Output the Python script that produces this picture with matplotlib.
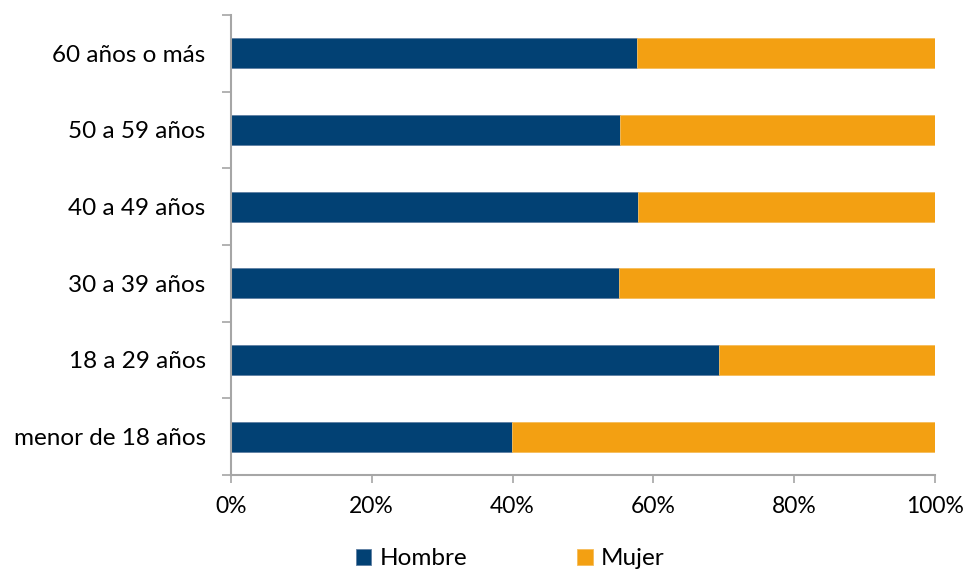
import matplotlib.pyplot as plt
import numpy as np

# data
categorias = ['menor de 18 años', '18 a 29 años', '30 a 39 años',
              '40 a 49 años', '50 a 59 años', '60 años o más']
hombre = [39.9, 69.3, 55.1, 57.8, 55.3, 57.6]
mujer = [100 - h for h in hombre]
xticks = [0, 20, 40, 60, 80, 100]

azul = '#024174'
naranja = '#F3A012'
gris = '#A6A6A6'

plt.rcParams['font.family'] = ['Lato', 'DejaVu Sans']

fig = plt.figure(figsize=(9.68, 5.74), dpi=100)
ax = fig.add_axes([0.2383, 0.1725, 0.9662 - 0.2383, 0.9739 - 0.1725])

y = np.arange(len(categorias))
ax.barh(y, hombre, height=0.39, color=azul, edgecolor='#5F7FA3', linewidth=0.6, label='Hombre')
ax.barh(y, mujer, left=hombre, height=0.39, color=naranja, edgecolor='#F6BC5A', linewidth=0.6, label='Mujer')

ax.set_xlim(0, 100)
ax.set_ylim(-0.5, len(categorias) - 0.5)
ax.set_xticks(xticks)
ax.set_xticklabels([str(v) + '%' for v in xticks], fontsize=16.5)
ax.set_yticks(y)
ax.set_yticklabels(categorias, fontsize=17.5)
ax.set_yticks(np.arange(len(categorias) + 1) - 0.5, minor=True)
ax.tick_params(axis='y', which='major', length=0, pad=18)
ax.tick_params(axis='y', which='minor', length=6.5, width=1.2, color=gris)
ax.tick_params(axis='x', length=6, width=1.2, color=gris, pad=9)

for s in ['top', 'right']:
    ax.spines[s].set_visible(False)
for s in ['left', 'bottom']:
    ax.spines[s].set_color(gris)
    ax.spines[s].set_linewidth(1.5)

fig.legend(loc='lower center', bbox_to_anchor=(0.527, -0.03), ncol=2, frameon=False,
           fontsize=17.5, handlelength=0.65, handleheight=0.65, handletextpad=0.35,
           columnspacing=4.5)

plt.savefig('out.png', dpi=100)
